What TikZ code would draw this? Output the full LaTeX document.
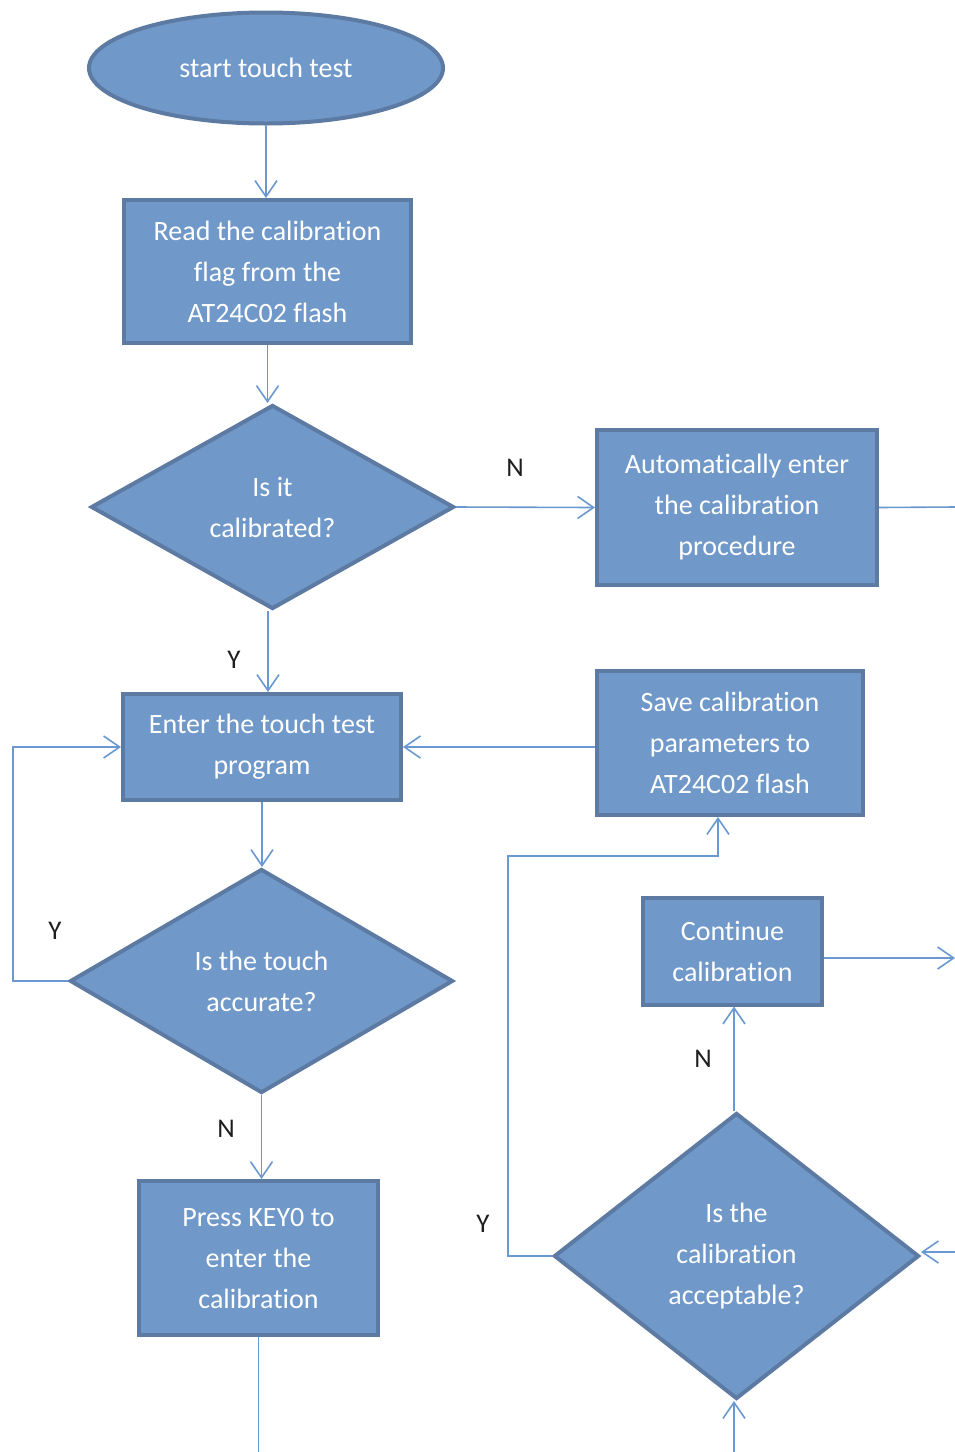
\documentclass[tikz,border=0pt]{standalone}
\usepackage{fontspec}
\setmainfont{Carlito}[Ligatures=NoCommon]
\usetikzlibrary{shapes.geometric,arrows.meta}
\definecolor{boxfill}{RGB}{112,153,202}
\definecolor{boxline}{RGB}{92,122,162}
\definecolor{conn}{RGB}{106,152,208}
\definecolor{lbl}{RGB}{30,30,30}
\tikzset{
  base/.style={fill=boxfill, draw=boxline, line width=4pt, text=white,
    font=\fontsize{28}{41}\selectfont, align=center, inner sep=0pt},
  procbox/.style={base, rectangle},
  decide/.style={base, diamond},
  term/.style={base, ellipse},
  arr/.style={draw=conn, line width=1.6pt, -{Straight Barb[length=16pt,width=22pt,line width=1.6pt]}},
  plain/.style={draw=conn, line width=1.6pt},
  yn/.style={text=lbl, font=\fontsize{27}{30}\selectfont, inner sep=0pt}
}
\begin{document}
\begin{tikzpicture}[x=1pt,y=-1pt]
\useasboundingbox (0,0) rectangle (955,1452);
\fill[white] (0,0) rectangle (955,1452);

\node[term, minimum width=354pt, minimum height=111pt] (start) at (266,68) {start touch test};
\node[procbox, minimum width=287pt, minimum height=143pt] (read) at (267.5,271.5) {Read the calibration\\flag from the\\AT24C02 flash};
\node[decide, minimum width=363pt, minimum height=204pt] (d1) at (272.5,507) {Is it\\calibrated?};
\node[procbox, minimum width=280pt, minimum height=155pt] (auto) at (737,507.5) {Automatically enter\\the calibration\\procedure};
\node[procbox, minimum width=278pt, minimum height=106pt] (enter) at (262,747) {Enter the touch test\\program};
\node[procbox, minimum width=266pt, minimum height=144pt] (save) at (730,743) {Save calibration\\parameters to\\AT24C02 flash};
\node[decide, minimum width=383pt, minimum height=224pt] (d2) at (261.5,981) {Is the touch\\accurate?};
\node[procbox, minimum width=239pt, minimum height=154pt] (press) at (258.5,1258) {Press KEY0 to\\enter the\\calibration};
\node[procbox, minimum width=179pt, minimum height=107pt] (cont) at (732.5,951) {Continue\\calibration};
\node[decide, minimum width=365pt, minimum height=286pt] (d3) at (736.5,1256) {Is the\\calibration\\acceptable?};

\coordinate (autoout) at (955,507);
\coordinate (pressout) at (258.5,1452);
\coordinate (contout) at (955,958);
\coordinate (d3inR) at (955,1252);
\coordinate (d3inB) at (734,1452);
\coordinate (loopL) at (13,0);
\coordinate (loopR) at (508,856);
\coordinate (saveIn) at (718,856);

\draw[arr] (start.south) -- (start.south |- read.north);
\draw[arr] (read.south) -- (read.south |- d1.north);
\draw[arr] (d1.east) -- (auto.west);
\node[yn] (lN1) at (515,468) {N};
\draw[plain] (auto.east) -- (autoout);
\draw[arr] (d1.south -| enter.north) ++(6,0) -- ([xshift=6pt]enter.north);
\node[yn] (lY1) at (234,660) {Y};
\draw[arr] (enter.east -| save.west) -- (enter.east);
\draw[arr] (enter.south) -- (enter.south |- d2.north);
\draw[arr] (d2.west) -- (loopL |- d2.west) -- (loopL |- enter.west) -- (enter.west);
\node[yn] (lY2) at (55,931) {Y};
\draw[arr] (d2.south) -- (d2.south |- press.north);
\node[yn] (lN2) at (226,1129) {N};
\draw[plain] (press.south) -- (pressout);
\draw[arr] (cont.east |- contout) -- (contout);
\draw[arr] (d3.north -| 734,0) -- (cont.south -| 734,0);
\node[yn] (lN3) at (703,1059) {N};
\draw[arr] (d3.west) -- (loopR |- d3.west) -- (loopR) -- (saveIn) -- (saveIn |- save.south);
\node[yn] (lY3) at (483,1224) {Y};
\draw[arr] (d3inR) -- (d3.east |- d3inR);
\draw[arr] (d3inB) -- (d3inB |- d3.south);
\end{tikzpicture}
\end{document}
